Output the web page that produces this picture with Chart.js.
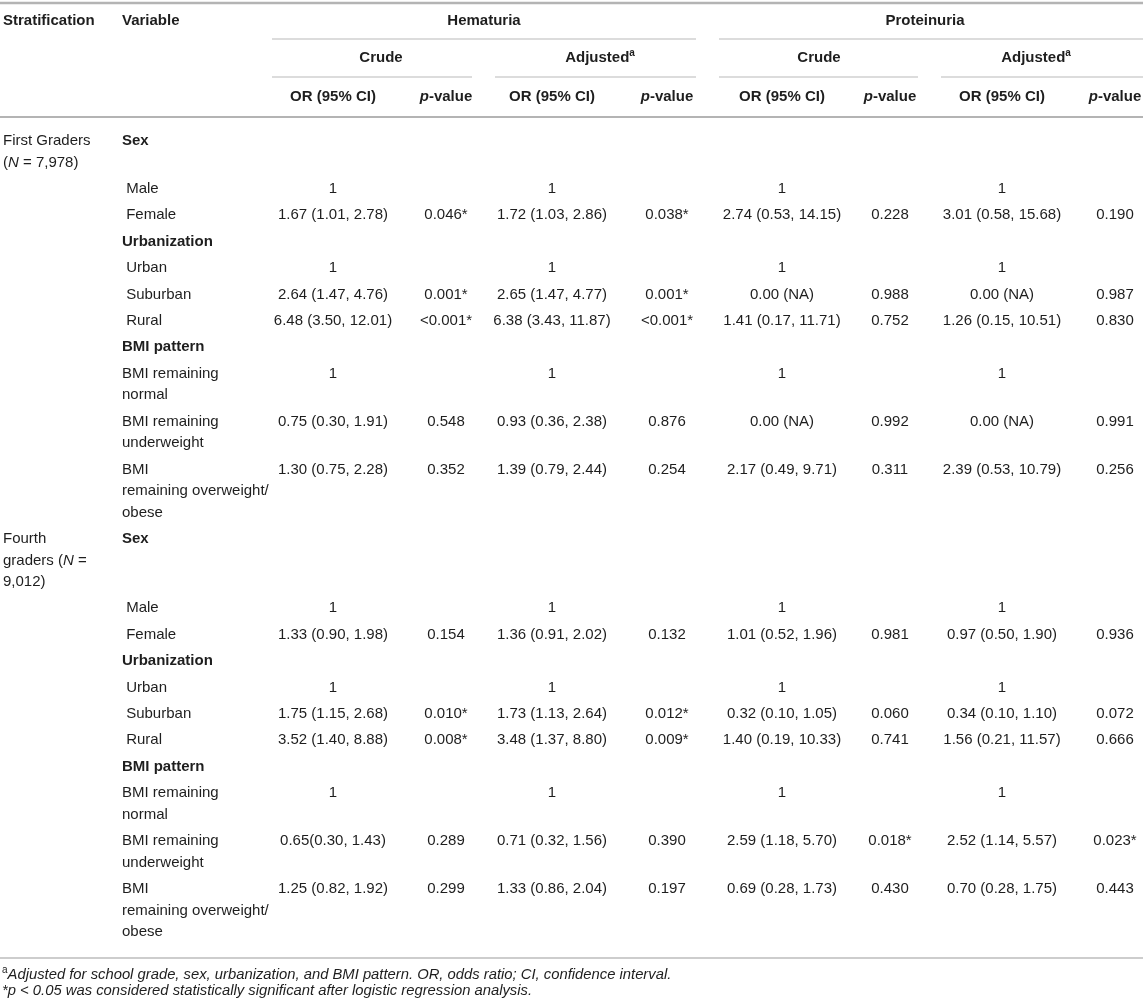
<!DOCTYPE html>
<html>
<head>
<meta charset="utf-8">
<title>Hematuria / Proteinuria OR</title>
<script src="https://cdn.jsdelivr.net/npm/chart.js@4"></script>
<style>
  html, body { margin: 0; padding: 0; background: #fff; }
</style>
</head>
<body>
<canvas id="tabla-or" width="1143" height="998"></canvas>
<script>
// datos de la tabla
var estratos = [["First Graders", "(_N_ = 7,978)"], ["Fourth", "graders (_N_ =", "9,012)"]];
var variables = [["**Sex**"], [" Male"], [" Female"], ["**Urbanization**"], [" Urban"], [" Suburban"], [" Rural"],
  ["**BMI pattern**"], ["BMI remaining", "normal"], ["BMI remaining", "underweight"], ["BMI", "remaining overweight/", "obese"]];

var desenlaces = ["Hematuria", "Proteinuria"];
var modelos = ["Crude", "Adjusted^a"];
var estadisticos = ["OR (95% CI)", "_p_-value"];

// 11 filas de primer grado y 11 de cuarto grado
var hemCrudoOR = ["", "1", "1.67 (1.01, 2.78)", "", "1", "2.64 (1.47, 4.76)", "6.48 (3.50, 12.01)", "", "1", "0.75 (0.30, 1.91)", "1.30 (0.75, 2.28)",
  "", "1", "1.33 (0.90, 1.98)", "", "1", "1.75 (1.15, 2.68)", "3.52 (1.40, 8.88)", "", "1", "0.65(0.30, 1.43)", "1.25 (0.82, 1.92)"];
var hemCrudoP = ["", "", "0.046*", "", "", "0.001*", "<0.001*", "", "", "0.548", "0.352",
  "", "", "0.154", "", "", "0.010*", "0.008*", "", "", "0.289", "0.299"];
var hemAjusOR = ["", "1", "1.72 (1.03, 2.86)", "", "1", "2.65 (1.47, 4.77)", "6.38 (3.43, 11.87)", "", "1", "0.93 (0.36, 2.38)", "1.39 (0.79, 2.44)",
  "", "1", "1.36 (0.91, 2.02)", "", "1", "1.73 (1.13, 2.64)", "3.48 (1.37, 8.80)", "", "1", "0.71 (0.32, 1.56)", "1.33 (0.86, 2.04)"];
var hemAjusP = ["", "", "0.038*", "", "", "0.001*", "<0.001*", "", "", "0.876", "0.254",
  "", "", "0.132", "", "", "0.012*", "0.009*", "", "", "0.390", "0.197"];
var proCrudoOR = ["", "1", "2.74 (0.53, 14.15)", "", "1", "0.00 (NA)", "1.41 (0.17, 11.71)", "", "1", "0.00 (NA)", "2.17 (0.49, 9.71)",
  "", "1", "1.01 (0.52, 1.96)", "", "1", "0.32 (0.10, 1.05)", "1.40 (0.19, 10.33)", "", "1", "2.59 (1.18, 5.70)", "0.69 (0.28, 1.73)"];
var proCrudoP = ["", "", "0.228", "", "", "0.988", "0.752", "", "", "0.992", "0.311",
  "", "", "0.981", "", "", "0.060", "0.741", "", "", "0.018*", "0.430"];
var proAjusOR = ["", "1", "3.01 (0.58, 15.68)", "", "1", "0.00 (NA)", "1.26 (0.15, 10.51)", "", "1", "0.00 (NA)", "2.39 (0.53, 10.79)",
  "", "1", "0.97 (0.50, 1.90)", "", "1", "0.34 (0.10, 1.10)", "1.56 (0.21, 11.57)", "", "1", "2.52 (1.14, 5.57)", "0.70 (0.28, 1.75)"];
var proAjusP = ["", "", "0.190", "", "", "0.987", "0.830", "", "", "0.991", "0.256",
  "", "", "0.936", "", "", "0.072", "0.666", "", "", "0.023*", "0.443"];

var notas = ["^a_Adjusted for school grade, sex, urbanization, and BMI pattern. OR, odds ratio; CI, confidence interval._",
  "_*p < 0.05 was considered statistically significant after logistic regression analysis._"];

// disposición (posiciones en unidades de la escala, 1 unidad = 1 px)
var columnasValor = [hemCrudoOR, hemCrudoP, hemAjusOR, hemAjusP, proCrudoOR, proCrudoP, proAjusOR, proAjusP];
var xColumnas = [333, 446, 552, 667, 782, 890, 1002, 1115];
var xModelos = [381, 600, 819, 1036];
var spanModelos = [[272, 472], [495, 696], [719, 918], [941, 1143]];
var xDesenlaces = [484, 925];
var spanDesenlaces = [[272, 696], [719, 1143]];
var FUENTE = '"Liberation Sans", Arial, Helvetica, sans-serif';
var TAM = 15, ALTO_FILA = 26.4, ALTO_LINEA = 21.5;

function partes(txt) {
  var trozos = txt.split(/(\*\*[^*]+\*\*|_[^_]+_|\^.)/g);
  var out = [];
  trozos.forEach(function (t) {
    if (!t) return;
    if (t.indexOf("**") === 0 && t.length > 4) out.push({ t: t.slice(2, -2), b: true });
    else if (t[0] === "_" && t.length > 1 && t[t.length - 1] === "_") out.push({ t: t.slice(1, -1), i: true });
    else if (t[0] === "^") out.push({ t: t.slice(1), sup: true });
    else out.push({ t: t });
  });
  return out;
}

function escribir(ctx, txt, x, y, alin, base) {
  var segs = partes(txt);
  var total = 0;
  segs.forEach(function (s) {
    var tam = s.sup ? Math.round(base.size * 0.68) : base.size;
    s.font = ((s.i || base.italic) ? "italic " : "") + ((s.b || base.bold) ? "bold " : "") + tam + "px " + FUENTE;
    ctx.font = s.font;
    s.w = ctx.measureText(s.t).width;
    total += s.w;
  });
  var x0 = alin === "center" ? x - total / 2 : (alin === "right" ? x - total : x);
  ctx.textAlign = "left";
  ctx.textBaseline = "middle";
  segs.forEach(function (s) {
    ctx.font = s.font;
    ctx.fillText(s.t, x0, s.sup ? y - base.size * 0.3 : y);
    x0 += s.w;
  });
}

var pluginTabla = {
  id: "tabla",
  afterDraw: function (chart) {
    var ctx = chart.ctx, sx = chart.scales.x, sy = chart.scales.y;
    var px = function (v) { return sx.getPixelForValue(v); };
    var py = function (v) { return sy.getPixelForValue(v); };
    var regla = function (y, a, b, grosor, color) {
      ctx.save();
      ctx.strokeStyle = color;
      ctx.lineWidth = grosor;
      ctx.beginPath();
      ctx.moveTo(px(a), py(y));
      ctx.lineTo(px(b), py(y));
      ctx.stroke();
      ctx.restore();
    };
    ctx.save();
    ctx.fillStyle = "#1e1e1e";
    var neg = { size: TAM, bold: true }, nor = { size: TAM };

    // encabezados
    escribir(ctx, "Stratification", px(3), py(21), "left", neg);
    escribir(ctx, "Variable", px(122), py(21), "left", neg);
    desenlaces.forEach(function (d, i) {
      escribir(ctx, d, px(xDesenlaces[i]), py(21), "center", neg);
      regla(39, spanDesenlaces[i][0], spanDesenlaces[i][1], 1.2, "#b9b9b9");
    });
    for (var k = 0; k < 4; k++) {
      escribir(ctx, modelos[k % 2], px(xModelos[k]), py(58), "center", neg);
      regla(77, spanModelos[k][0], spanModelos[k][1], 1.2, "#b9b9b9");
    }
    xColumnas.forEach(function (x, c) {
      escribir(ctx, estadisticos[c % 2], px(x), py(97), "center", neg);
    });
    regla(3, 0, 1143, 2.5, "#b4b4b4");
    regla(117, 0, 1143, 2.2, "#b4b4b4");

    // cuerpo
    var y = 141, fila = 0;
    estratos.forEach(function (est) {
      est.forEach(function (l, j) { escribir(ctx, l, px(3), py(y + j * ALTO_LINEA), "left", nor); });
      variables.forEach(function (v, r) {
        v.forEach(function (l, j) { escribir(ctx, l, px(122), py(y + j * ALTO_LINEA), "left", nor); });
        columnasValor.forEach(function (col, c) {
          if (col[fila]) escribir(ctx, col[fila], px(xColumnas[c]), py(y), "center", nor);
        });
        var lineas = Math.max(v.length, r === 0 ? est.length : 1);
        y += ALTO_FILA + (lineas - 1) * ALTO_LINEA;
        fila++;
      });
    });
    regla(958, 0, 1143, 1.4, "#bdbdbd");

    // notas al pie
    notas.forEach(function (n, i) {
      escribir(ctx, n, px(2), py(975 + i * 16), "left", { size: 14.8 });
    });
    ctx.restore();
  }
};

var tablaContexto = document.getElementById("tabla-or");
var tabla = new Chart(tablaContexto, {
  type: "scatter",
  data: { datasets: [{ data: [], pointRadius: 0 }] },
  options: {
    responsive: false,
    animation: false,
    devicePixelRatio: 1,
    layout: { padding: 0 },
    plugins: { legend: { display: false }, tooltip: { enabled: false } },
    scales: {
      x: { type: "linear", min: 0, max: 1143, display: false },
      y: { type: "linear", min: 0, max: 998, reverse: true, display: false }
    }
  },
  plugins: [pluginTabla]
});
</script>
</body>
</html>
